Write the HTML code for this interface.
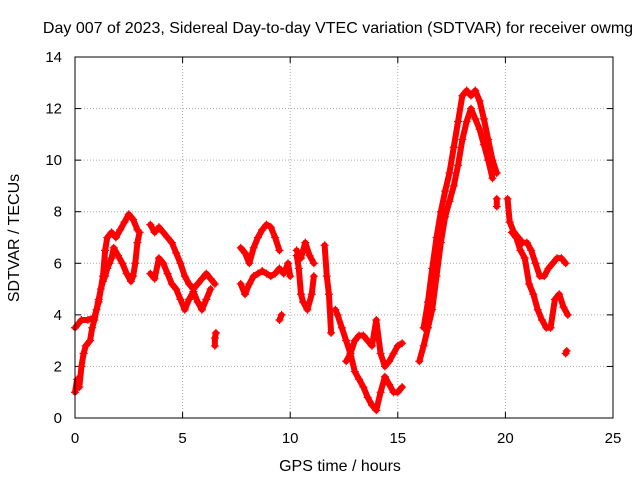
<!DOCTYPE html>
<html><head><meta charset="utf-8"><style>
body{margin:0;background:#fff}
svg{display:block;font-family:"Liberation Sans",sans-serif}
</style></head><body>
<svg id="chart" width="640" height="480">
<text x="338" y="33" text-anchor="middle" font-size="16">Day 007 of 2023, Sidereal Day-to-day VTEC variation (SDTVAR) for receiver owmg</text>
<text x="340" y="471" text-anchor="middle" font-size="16">GPS time / hours</text>
<text transform="translate(19,238) rotate(-90)" text-anchor="middle" font-size="16">SDTVAR / TECUs</text>
<g id="grid"></g><g id="ticks"></g><g id="marks"></g>
<rect x="75" y="57" width="538" height="361" fill="none" stroke="#000"/>
</svg>
<script>
const xTicks=[0,5,10,15,20,25];
const yTicks=[0,2,4,6,8,10,12,14];
const seg1a=[[0,1],[0.1,1.5],[0.2,1.2],[0.3,2],[0.4,2.5],[0.5,2.8],[0.7,3],[0.8,3.5],[0.9,3.8],[1,4.2],[1.1,4.6],[1.2,5],[1.3,5.3],[1.4,5.5],[1.5,5.8],[1.6,6],[1.7,6.2],[1.8,6.6],[2,6.3],[2.2,6],[2.4,5.6],[2.6,5.3],[2.7,5.5],[2.8,6],[2.9,6.8],[3,7.2]];
const seg1b=[[0,3.5],[0.3,3.8],[0.6,3.8],[0.9,3.9],[1.1,4.5],[1.3,5.5],[1.4,6.5],[1.5,7],[1.7,7.2],[1.9,7],[2.1,7.3],[2.3,7.6],[2.5,7.9],[2.7,7.7],[2.9,7.3]];
const seg2a=[[3.5,7.5],[3.7,7.2],[3.9,7.4],[4.1,7.2],[4.3,7],[4.5,6.8],[4.7,6.4],[4.9,6],[5.1,5.5],[5.3,5.2],[5.5,5],[5.7,5.2],[5.9,5.4],[6.1,5.6],[6.3,5.4],[6.5,5.2]];
const seg2b=[[3.5,5.6],[3.7,5.4],[3.9,6.2],[4.1,6],[4.3,5.6],[4.5,5.2],[4.7,5],[4.9,4.6],[5.1,4.2],[5.3,4.6],[5.5,4.9],[5.7,4.5],[5.9,4.2],[6.1,4.6],[6.3,5]];
const seg2c=[[6.5,2.8],[6.5,3.1],[6.55,3.3]];
const seg3a=[[7.7,5.2],[7.9,4.8],[8.1,5.2],[8.3,5.5],[8.5,5.6],[8.7,5.7],[8.9,5.6],[9.1,5.5],[9.3,5.6],[9.5,5.8],[9.7,5.6],[9.9,6],[10,5.5]];
const seg3b=[[7.7,6.6],[7.9,6.4],[8.1,6],[8.3,6.6],[8.5,7],[8.7,7.3],[8.9,7.5],[9.1,7.4],[9.3,7],[9.5,6.5]];
const seg3c=[[9.5,3.8],[9.6,4]];
const seg4a=[[10.3,6.3],[10.4,5.8],[10.5,4.8],[10.6,4.5],[10.8,4.2],[11,4.8],[11.1,5.5]];
const seg4b=[[10.3,6.5],[10.5,6.2],[10.7,6.8],[10.9,6.3],[11.1,6]];
const seg5=[[11.6,6.7],[11.7,5.5],[11.8,4.8],[11.9,3.3]];
const seg6a=[[12.1,4.2],[12.2,4],[12.4,3.5],[12.6,3],[12.8,2.5],[13,1.8],[13.2,1.5],[13.4,1.2],[13.6,0.8],[13.8,0.5],[14,0.3],[14.2,1],[14.4,1.6],[14.6,1.3],[14.8,1],[15,1],[15.2,1.2]];
const seg6b=[[12.6,2.2],[12.8,2.5],[13,3],[13.2,3.2],[13.4,3.2],[13.6,3],[13.8,2.8],[14,3.8],[14.2,2.5],[14.4,2],[14.6,2.2],[14.8,2.5],[15,2.8],[15.2,2.9]];
const seg7a=[[16,2.2],[16.2,2.8],[16.4,3.5],[16.6,4.2],[16.8,5.5],[17,6.8],[17.2,7.8],[17.4,8.4],[17.6,9],[17.8,9.8],[18,10.8],[18.2,11.5],[18.4,12],[18.6,11.6],[18.8,11.2],[19,10.6],[19.2,10],[19.4,9.3]];
const seg7b=[[16.2,3.5],[16.4,4.5],[16.6,5.8],[16.8,7],[17,8],[17.2,8.8],[17.4,9.5],[17.6,10.5],[17.8,11.5],[18,12.5],[18.2,12.7],[18.4,12.5],[18.6,12.7],[18.8,12.3],[19,11.6],[19.2,10.8],[19.4,10],[19.6,9.5]];
const seg7c=[[19.6,8.2],[19.6,8.5]];
const seg8a=[[20.1,8.5],[20.2,7.6],[20.4,7.2],[20.6,7],[20.8,6.8],[21,6.8],[21.2,6.5],[21.4,6],[21.6,5.5],[21.8,5.5],[22,5.8],[22.2,6],[22.4,6.2],[22.6,6.2],[22.8,6]];
const seg8b=[[20.3,7.2],[20.5,7],[20.7,6.5],[20.9,6.2],[21.1,5.2],[21.3,4.8],[21.5,4.2],[21.7,3.8],[21.9,3.5],[22.1,3.5],[22.3,4.6],[22.5,4.8],[22.7,4.3],[22.9,4]];
const seg8c=[[22.8,2.5],[22.85,2.6]];
const segments=[seg1a,seg1b,seg2a,seg2b,seg2c,seg3a,seg3b,seg3c,seg4a,seg4b,seg5,seg6a,seg6b,seg7a,seg7b,seg7c,seg8a,seg8b,seg8c];
const X=v=>75+v*538/25, Y=v=>418-v*361/14;
const NS="http://www.w3.org/2000/svg";
const grid=document.getElementById('grid'),ticks=document.getElementById('ticks'),marks=document.getElementById('marks');
function mk(tag,attrs,parent){const e=document.createElementNS(NS,tag);for(const k in attrs)e.setAttribute(k,attrs[k]);parent.appendChild(e);return e;}
xTicks.forEach(t=>{
 if(t>0&&t<25){const g=mk('line',{x1:X(t),x2:X(t),y1:57,y2:418,stroke:'#aaa','stroke-dasharray':'1,2'},grid);
 
 }
 mk('line',{x1:X(t),x2:X(t),y1:418,y2:412,stroke:'#000'},ticks);
 mk('line',{x1:X(t),x2:X(t),y1:57,y2:63,stroke:'#000'},ticks);
 const l=mk('text',{x:X(t),y:443,'text-anchor':'middle','font-size':'15'},ticks);l.textContent=t;
 
 
});
yTicks.forEach(t=>{
 if(t>0&&t<14){const g=mk('line',{x1:75,x2:613,y1:Y(t),y2:Y(t),stroke:'#aaa','stroke-dasharray':'1,2'},grid);
 
 }
 mk('line',{x1:75,x2:81,y1:Y(t),y2:Y(t),stroke:'#000'},ticks);
 mk('line',{x1:613,x2:607,y1:Y(t),y2:Y(t),stroke:'#000'},ticks);
 const l=mk('text',{x:62,y:Y(t)+5,'text-anchor':'end','font-size':'15'},ticks);l.textContent=t;
 
 
});
segments.forEach(s=>{
 const p=mk('polyline',{points:s.map(d=>X(d[0])+','+Y(d[1])).join(' '),fill:'none',stroke:'#f00','stroke-width':6,'stroke-linejoin':'round','stroke-linecap':'round'},marks);
 
 
 s.forEach(d=>{
  const x=X(d[0]),y=Y(d[1]);
  const m=mk('path',{d:`M${x-4},${y}H${x+4}M${x},${y-4}V${y+4}`,stroke:'#f00','stroke-width':1.2},marks);
  
  
 });
});
</script>
</body></html>
